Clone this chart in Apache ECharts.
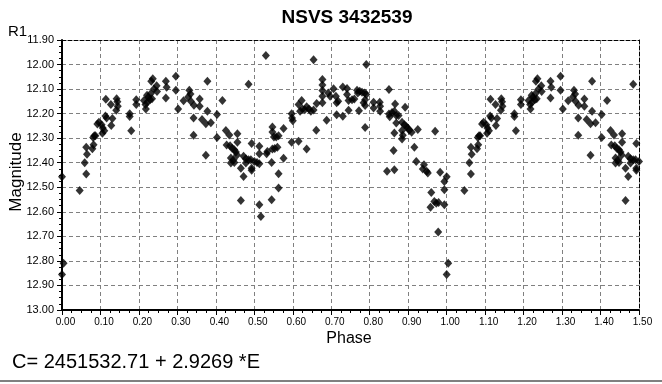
<!DOCTYPE html>
<html>
<head>
<meta charset="utf-8">
<script src="https://cdn.jsdelivr.net/npm/echarts@6/dist/echarts.min.js"></script>
<style>
html,body{margin:0;padding:0;background:#fff;}
#chart{width:662px;height:384px;}
</style>
</head>
<body>
<div id="chart"></div>
<script>
// ---- data (phase, magnitude), phase 0..1 ----
const observations = [
[0.000,12.457],[0.046,12.513],[0.063,12.446],[0.059,12.400],[0.065,12.365],[0.063,12.337],[0.082,12.327],[0.079,12.343],
[0.084,12.290],[0.081,12.297],[0.087,12.290],[0.092,12.242],[0.096,12.235],[0.103,12.245],[0.106,12.259],[0.105,12.280],
[0.110,12.270],[0.113,12.210],[0.116,12.218],[0.128,12.248],[0.131,12.220],[0.114,12.141],[0.127,12.163],[0.142,12.139],
[0.144,12.152],[0.145,12.170],[0.141,12.186],[0.176,12.200],[0.176,12.212],[0.180,12.270],[0.193,12.143],[0.193,12.163],
[0.213,12.146],[0.217,12.163],[0.218,12.181],[0.221,12.125],[0.224,12.133],[0.229,12.143],[0.232,12.068],[0.236,12.058],
[0.246,12.086],[0.239,12.100],[0.247,12.110],[0.231,12.118],[0.234,12.139],[0.222,12.154],[0.270,12.068],[0.272,12.093],
[0.270,12.136],[0.296,12.048],[0.296,12.105],[0.302,12.181],[0.316,12.147],[0.331,12.105],[0.334,12.120],[0.328,12.132],
[0.335,12.150],[0.343,12.166],[0.342,12.218],[0.342,12.288],[0.358,12.140],[0.358,12.170],[0.364,12.224],[0.374,12.241],
[0.378,12.068],[0.378,12.190],[0.374,12.370],
[0.387,12.237],[0.403,12.204],[0.403,12.297],[0.417,12.146],[0.426,12.269],[0.435,12.287],[0.428,12.328],[0.437,12.331],
[0.442,12.341],[0.448,12.347],[0.452,12.356],[0.455,12.369],[0.456,12.282],[0.456,12.317],[0.439,12.381],[0.446,12.388],
[0.439,12.401],[0.448,12.399],[0.472,12.374],[0.478,12.384],[0.485,12.388],[0.491,12.388],[0.500,12.395],[0.507,12.399],
[0.513,12.404],[0.478,12.401],[0.465,12.422],[0.472,12.456],[0.493,12.322],[0.493,12.422],[0.493,12.431],[0.513,12.333],
[0.513,12.363],[0.513,12.571],[0.517,12.619],[0.465,12.554],[0.530,11.963],[0.485,12.080],[0.532,12.363],[0.534,12.354],
[0.545,12.399],[0.545,12.551],[0.547,12.344],[0.553,12.342],[0.560,12.337],[0.547,12.275],[0.547,12.254],[0.551,12.295],
[0.557,12.295],[0.563,12.290],[0.563,12.445],[0.563,12.503],[0.576,12.261],[0.576,12.382],[0.597,12.200],[0.598,12.218],
[0.600,12.229],[0.597,12.317],[0.615,12.312],[0.615,12.163],[0.623,12.146],[0.619,12.190],[0.625,12.181],[0.631,12.184],
[0.636,12.172],[0.642,12.181],[0.647,12.190],[0.654,12.185],[0.654,11.980],[0.636,12.344],[0.661,12.268],[0.662,12.159],
[0.677,12.061],[0.677,12.083],[0.677,12.106],[0.677,12.129],[0.677,12.156],[0.688,12.227],[0.692,12.116],[0.697,12.129],
[0.706,12.099],[0.712,12.129],[0.714,12.156],[0.714,12.205],[0.718,12.150],
[0.730,12.091],[0.741,12.098],[0.741,12.122],[0.745,12.146],[0.745,12.186],[0.730,12.211],[0.754,12.143],[0.760,12.140],
[0.767,12.105],[0.769,12.116],[0.774,12.109],[0.780,12.113],[0.787,12.116],[0.791,12.122],[0.784,12.156],[0.788,12.167],
[0.788,12.143],[0.772,12.188],[0.788,12.256],[0.791,12.000],[0.810,12.154],[0.810,12.177],[0.826,12.154],[0.827,12.170],
[0.827,12.190],[0.850,12.102],[0.850,12.201],[0.852,12.213],[0.858,12.195],[0.864,12.190],[0.866,12.161],[0.869,12.208],
[0.875,12.208],[0.869,12.238],[0.864,12.279],[0.892,12.174],[0.884,12.235],[0.890,12.245],[0.895,12.252],[0.899,12.259],
[0.903,12.268],[0.909,12.276],[0.884,12.269],[0.886,12.288],[0.884,12.303],[0.925,12.265],[0.970,12.272],[0.862,12.350],
[0.916,12.337],[0.921,12.395],[0.845,12.435],[0.864,12.429],[0.938,12.426],[0.941,12.408],[0.948,12.435],[0.951,12.442],
[0.983,12.439],[0.994,12.476],[0.994,12.510],[0.960,12.521],[0.968,12.558],[0.973,12.565],[0.979,12.562],[0.958,12.581],
[0.994,12.571],[0.978,12.682],[0.004,12.810],[0.000,12.855]
];
const xTicks = ['0.00','0.10','0.20','0.30','0.40','0.50','0.60','0.70','0.80','0.90','1.00','1.10','1.20','1.30','1.40','1.50'];
const yTicks = ['11.90','12.00','12.10','12.20','12.30','12.40','12.50','12.60','12.70','12.80','12.90','13.00'];
const titleText = 'NSVS 3432539';
const ephemeris = 'C= 2451532.71 + 2.9269 *E';

// phase-folded: points of the first half cycle are repeated one cycle later
const plotted = observations.concat(
  observations.filter(d => d[0] <= 0.5).map(d => [+(d[0] + 1).toFixed(3), d[1]])
);

const FONT = '"Liberation Sans", Arial, sans-serif';
const chart = echarts.init(document.getElementById('chart'), null, {renderer: 'canvas'});
const xMin = parseFloat(xTicks[0]), xMax = parseFloat(xTicks[xTicks.length - 1]);
const yMin = parseFloat(yTicks[0]), yMax = parseFloat(yTicks[yTicks.length - 1]);

chart.setOption({
  animation: false,
  backgroundColor: '#ffffff',
  grid: {left: 62, right: 23, top: 40, bottom: 74, containLabel: false},
  xAxis: [{
    type: 'value', min: xMin, max: xMax, interval: 0.1, position: 'bottom',
    axisLine: {show: true, onZero: false, lineStyle: {color: '#000', width: 2}},
    axisTick: {show: true, length: 5, lineStyle: {color: '#000'}},
    minorTick: {show: true, splitNumber: 4, length: 3, lineStyle: {color: '#000'}},
    axisLabel: {color: '#000', fontFamily: FONT, fontSize: 10, margin: 7, padding: [0, 0, 0, 7],
      formatter: v => v.toFixed(2)},
    splitLine: {show: true, showMinLine: false, showMaxLine: false,
      lineStyle: {color: '#808080', width: 1, type: [4, 3]}}
  }, {
    type: 'value', min: xMin, max: xMax, position: 'top',
    axisLine: {show: true, onZero: false, lineStyle: {color: '#000', width: 1, type: [4, 2]}},
    axisTick: {show: false}, axisLabel: {show: false}, splitLine: {show: false}
  }],
  yAxis: [{
    type: 'value', min: yMin, max: yMax, interval: 0.1, inverse: true, position: 'left',
    axisLine: {show: true, onZero: false, lineStyle: {color: '#000', width: 2}},
    axisTick: {show: true, length: 5, lineStyle: {color: '#000'}},
    minorTick: {show: true, splitNumber: 4, length: 3, lineStyle: {color: '#000'}},
    axisLabel: {color: '#000', fontFamily: FONT, fontSize: 11, margin: 8,
      formatter: v => v.toFixed(2)},
    splitLine: {show: true, showMinLine: false, showMaxLine: false,
      lineStyle: {color: '#808080', width: 1, type: [4, 3]}}
  }, {
    type: 'value', min: yMin, max: yMax, inverse: true, position: 'right',
    axisLine: {show: true, onZero: false, lineStyle: {color: '#000', width: 1, type: [4, 2]}},
    axisTick: {show: false}, axisLabel: {show: false}, splitLine: {show: false}
  }],
  series: [{
    type: 'scatter', xAxisIndex: 0, yAxisIndex: 0,
    symbol: 'diamond', symbolSize: [8, 9],
    itemStyle: {color: '#000'},
    data: plotted
  }],
  graphic: [
    {type: 'text', x: 347, y: 18, style: {text: titleText, font: 'bold 19px ' + FONT, fill: '#000', textAlign: 'center', textVerticalAlign: 'middle'}},
    {type: 'text', x: 8, y: 32, style: {text: 'R1', font: '15px ' + FONT, fill: '#000', textAlign: 'left', textVerticalAlign: 'middle'}},
    {type: 'text', x: 16, y: 172, rotation: Math.PI / 2, style: {text: 'Magnitude', font: '17px ' + FONT, fill: '#000', textAlign: 'center', textVerticalAlign: 'middle'}},
    {type: 'text', x: 349, y: 339, style: {text: 'Phase', font: '16px ' + FONT, fill: '#000', textAlign: 'center', textVerticalAlign: 'middle'}},
    {type: 'text', x: 12, y: 362, style: {text: ephemeris, font: '20px ' + FONT, fill: '#000', textAlign: 'left', textVerticalAlign: 'middle'}},
    {type: 'rect', shape: {x: 0, y: 380, width: 662, height: 2}, style: {fill: '#808080'}}
  ]
});
</script>
</body>
</html>
